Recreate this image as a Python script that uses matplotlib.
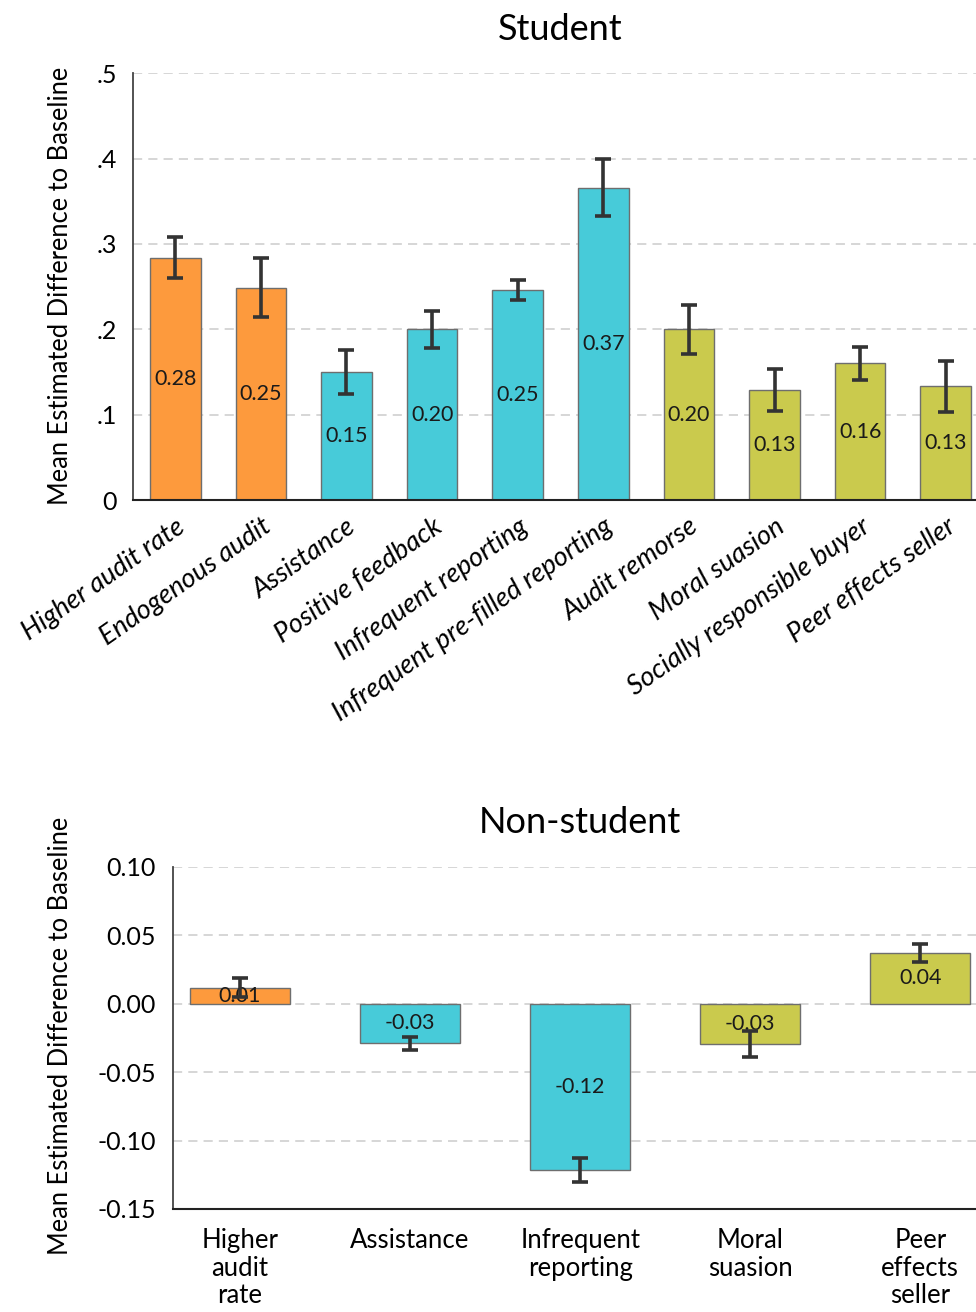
import matplotlib
matplotlib.use("Agg")
import matplotlib.pyplot as plt
import numpy as np

plt.rcParams['font.family'] = ['Lato', 'DejaVu Sans']

# Student sample
student_labels = ["Higher audit rate", "Endogenous audit", "Assistance", "Positive feedback",
                  "Infrequent reporting", "Infrequent pre-filled reporting", "Audit remorse",
                  "Moral suasion", "Socially responsible buyer", "Peer effects seller"]
student_means = [0.284, 0.249, 0.150, 0.200, 0.246, 0.366, 0.200, 0.129, 0.160, 0.133]
student_err = [0.024, 0.034, 0.026, 0.022, 0.012, 0.033, 0.029, 0.025, 0.019, 0.030]
student_group = ["audit", "audit", "service", "service", "service", "service",
                 "norms", "norms", "norms", "norms"]

# Non-student sample
nonstudent_labels = ["Higher\naudit\nrate", "Assistance", "Infrequent\nreporting",
                     "Moral\nsuasion", "Peer\neffects\nseller"]
nonstudent_means = [0.0116, -0.029, -0.1215, -0.0295, 0.037]
nonstudent_err = [0.007, 0.0046, 0.0088, 0.0097, 0.0065]
nonstudent_group = ["audit", "service", "service", "norms", "norms"]

student_yticks = [0, 0.1, 0.2, 0.3, 0.4, 0.5]
student_yticklabels = ["0", ".1", ".2", ".3", ".4", ".5"]
nonstudent_yticks = [-0.15, -0.10, -0.05, 0.00, 0.05, 0.10]
nonstudent_yticklabels = ["-0.15", "-0.10", "-0.05", "0.00", "0.05", "0.10"]

group_colors = {"audit": "#FD9A3D", "service": "#47CBD9", "norms": "#CACA4D"}

FIG_W, FIG_H = 976, 1312
fig = plt.figure(figsize=(FIG_W / 100, FIG_H / 100), dpi=100)


def px_axes(left, top, right, bottom):
    return fig.add_axes([left / FIG_W, 1 - bottom / FIG_H,
                         (right - left) / FIG_W, (bottom - top) / FIG_H])


def draw_panel(ax, labels, means, errs, groups, title):
    x = np.arange(len(means))
    colors = [group_colors[g] for g in groups]
    ax.bar(x, means, width=0.59, color=colors, edgecolor="#6e6e6e", linewidth=1.0, zorder=2)
    ax.errorbar(x, means, yerr=errs, fmt="none", ecolor="#333333", elinewidth=2.6,
                capsize=6, capthick=2.6, zorder=4)
    for xi, v in zip(x, means):
        ax.text(xi, v / 2, f"{v:.2f}", ha="center", va="center", fontsize=15.5,
                color="#1a1a1a", zorder=3)
    ax.set_xticks(x)
    ax.grid(axis="y", linestyle=(0, (6, 4)), color="#cccccc", linewidth=1.1, zorder=0)
    ax.set_axisbelow(True)
    for s in ("top", "right"):
        ax.spines[s].set_visible(False)
    ax.spines["left"].set_color("#444444")
    ax.spines["left"].set_linewidth(1.3)
    ax.spines["bottom"].set_color("#222222")
    ax.spines["bottom"].set_linewidth(1.5)
    ax.tick_params(axis="both", length=0, labelsize=18)
    ax.set_title(title, fontsize=26, pad=24)
    return x


# Top panel
ax1 = px_axes(133.3, 73.3, 987.7, 500)
x1 = draw_panel(ax1, student_labels, student_means, student_err, student_group, "Student")
ax1.set_xlim(-0.49, 9.49)
ax1.set_ylim(0, 0.5)
ax1.set_yticks(student_yticks)
ax1.set_yticklabels(student_yticklabels)
ax1.tick_params(axis="y", pad=12)
ax1.set_xticklabels(student_labels, rotation=35, ha="right", rotation_mode="anchor",
                    fontstyle="italic", fontsize=19.5)
ax1.tick_params(axis="x", pad=10)
ax1.set_ylabel("Mean Estimated Difference to Baseline", fontsize=18.4, va="center")
ax1.yaxis.set_label_coords(61 / FIG_W, 1 - 286 / FIG_H, transform=fig.transFigure)

# Bottom panel
ax2 = px_axes(172.7, 866.7, 987.6, 1209)
x2 = draw_panel(ax2, nonstudent_labels, nonstudent_means, nonstudent_err, nonstudent_group,
                "Non-student")
ax2.set_xlim(-0.396, 4.396)
ax2.set_ylim(-0.15, 0.10)
ax2.set_yticks(nonstudent_yticks)
ax2.set_yticklabels(nonstudent_yticklabels)
ax2.tick_params(axis="y", pad=12)
ax2.set_xticklabels(nonstudent_labels, fontsize=18.5, linespacing=1.12)
ax2.tick_params(axis="x", pad=14)
ax2.set_ylabel("Mean Estimated Difference to Baseline", fontsize=18.4, va="center")
ax2.yaxis.set_label_coords(61 / FIG_W, 1 - 1036 / FIG_H, transform=fig.transFigure)

fig.savefig("out.png", dpi=100)
